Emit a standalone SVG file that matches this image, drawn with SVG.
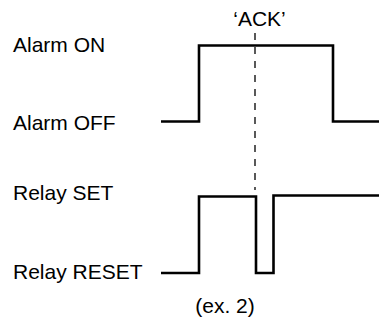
<svg xmlns="http://www.w3.org/2000/svg" width="379" height="320" viewBox="0 0 379 320">
<style>
text{font-family:"Liberation Sans",Arial,sans-serif;font-size:21px;fill:#000}
.w{fill:none;stroke:#000;stroke-width:2.6;stroke-linejoin:miter}
.d{fill:none;stroke:#000;stroke-width:1.3;stroke-dasharray:7,7}
</style>
<rect width="379" height="320" fill="#fff"/>
<g id="labels">
<text x="13" y="51.5">Alarm ON</text>
<text x="13" y="130">Alarm OFF</text>
<text x="13" y="200">Relay SET</text>
<text x="13" y="279">Relay RESET</text>
<text x="259.5" y="26" text-anchor="middle">‘ACK’</text>
<text x="225" y="313" text-anchor="middle">(ex. 2)</text>
</g>
<g id="connectors">
<path class="w" d="M161,121.5 H199 V45.5 H333 V121.5 H379"/>
<path class="w" d="M161,273 H199 V196.5 H256 V273 H273.5 V195.5 H379"/>
<path class="d" d="M255,33 V190"/>
</g>
</svg>
